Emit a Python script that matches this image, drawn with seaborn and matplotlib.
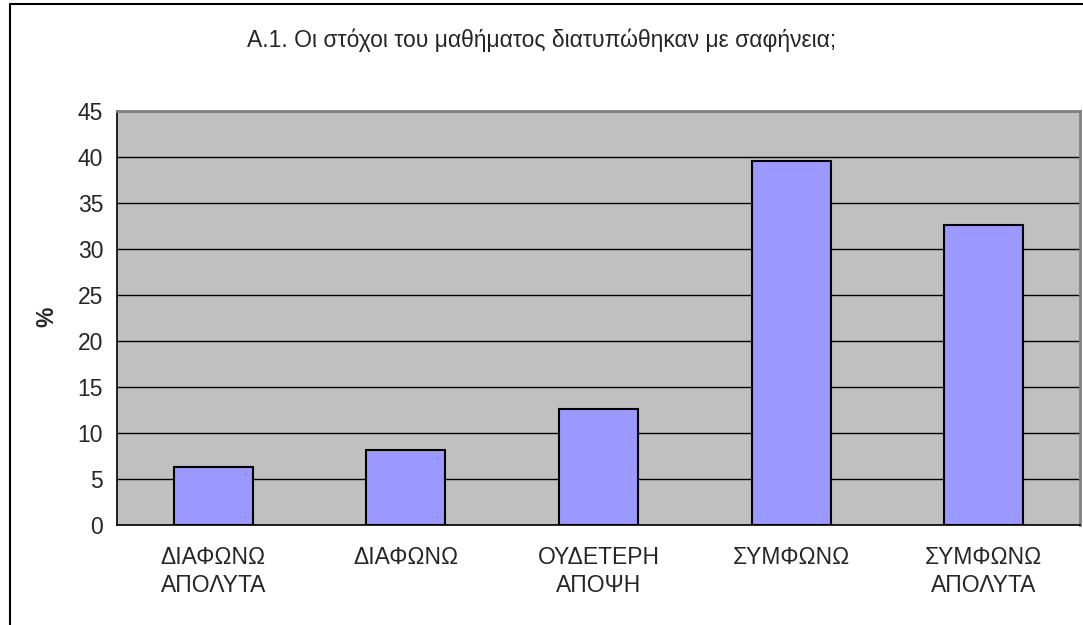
import pandas as pd
import numpy as np
import seaborn as sns
import matplotlib.pyplot as plt
from matplotlib.lines import Line2D

categories = ['ΔΙΑΦΩΝΩ\nΑΠΟΛΥΤΑ', 'ΔΙΑΦΩΝΩ', 'ΟΥΔΕΤΕΡΗ\nΑΠΟΨΗ', 'ΣΥΜΦΩΝΩ', 'ΣΥΜΦΩΝΩ\nΑΠΟΛΥΤΑ']
percent = [6.3, 8.2, 12.6, 39.6, 32.6]
yticks = [0, 5, 10, 15, 20, 25, 30, 35, 40, 45]
title = 'Α.1. Οι στόχοι του μαθήματος διατυπώθηκαν με σαφήνεια;'

df = pd.DataFrame({'cat': categories, 'pct': percent})

sns.set_style('white')
plt.rcParams['font.family'] = ['Liberation Sans', 'DejaVu Sans']

W, H = 1083, 625
fig = plt.figure(figsize=(W / 100, H / 100), dpi=100)
ax = fig.add_axes([117 / W, 1 - 525 / H, (1080 - 117) / W, (525 - 111) / H])
ax.set_facecolor('#C0C0C0')

sns.barplot(x='cat', y='pct', data=df, ax=ax, color='#9999FF',
            edgecolor='black', linewidth=1.5, width=0.41, saturation=1)

ax.set_ylim(0, 45)
ax.set_xlim(-0.5, 4.5)
ax.set_yticks(yticks)
ax.set_yticklabels([str(v) for v in yticks], fontsize=16.5)
ax.yaxis.grid(True, color='black', linewidth=1)
ax.set_axisbelow(True)

ax.set_xticks(np.arange(-0.5, 5, 1))
ax.set_xticklabels([])
ax.set_xticks(np.arange(5), minor=True)
ax.set_xticklabels(categories, minor=True, fontsize=16.5, linespacing=1.3, va='top')
ax.tick_params(axis='x', which='major', length=7, width=1, color='black', direction='out')
ax.tick_params(axis='x', which='minor', length=0, pad=15)
ax.tick_params(axis='y', length=7, width=1, color='black', direction='out', pad=3)
ax.set_xlabel('')
ax.set_ylabel('')

for s in ['top', 'right']:
    ax.spines[s].set_color('#808080')
    ax.spines[s].set_linewidth(2)
for s in ['left', 'bottom']:
    ax.spines[s].set_color('black')
    ax.spines[s].set_linewidth(1.2)

fig.text(542 / W, 1 - 40 / H, title, ha='center', va='center', fontsize=16.5)
fig.text(47 / W, 1 - 317 / H, '%', rotation=90, ha='center', va='center',
         fontsize=16.5, fontweight='bold')

# outer chart frame (only left and top are visible)
fig.add_artist(Line2D([9.5 / W, 9.5 / W], [0, 1 - 4 / H], color='black', linewidth=1.5,
                      transform=fig.transFigure))
fig.add_artist(Line2D([9.5 / W, 1], [1 - 4 / H, 1 - 4 / H], color='black', linewidth=1.5,
                      transform=fig.transFigure))

plt.savefig('out.png', dpi=100)
